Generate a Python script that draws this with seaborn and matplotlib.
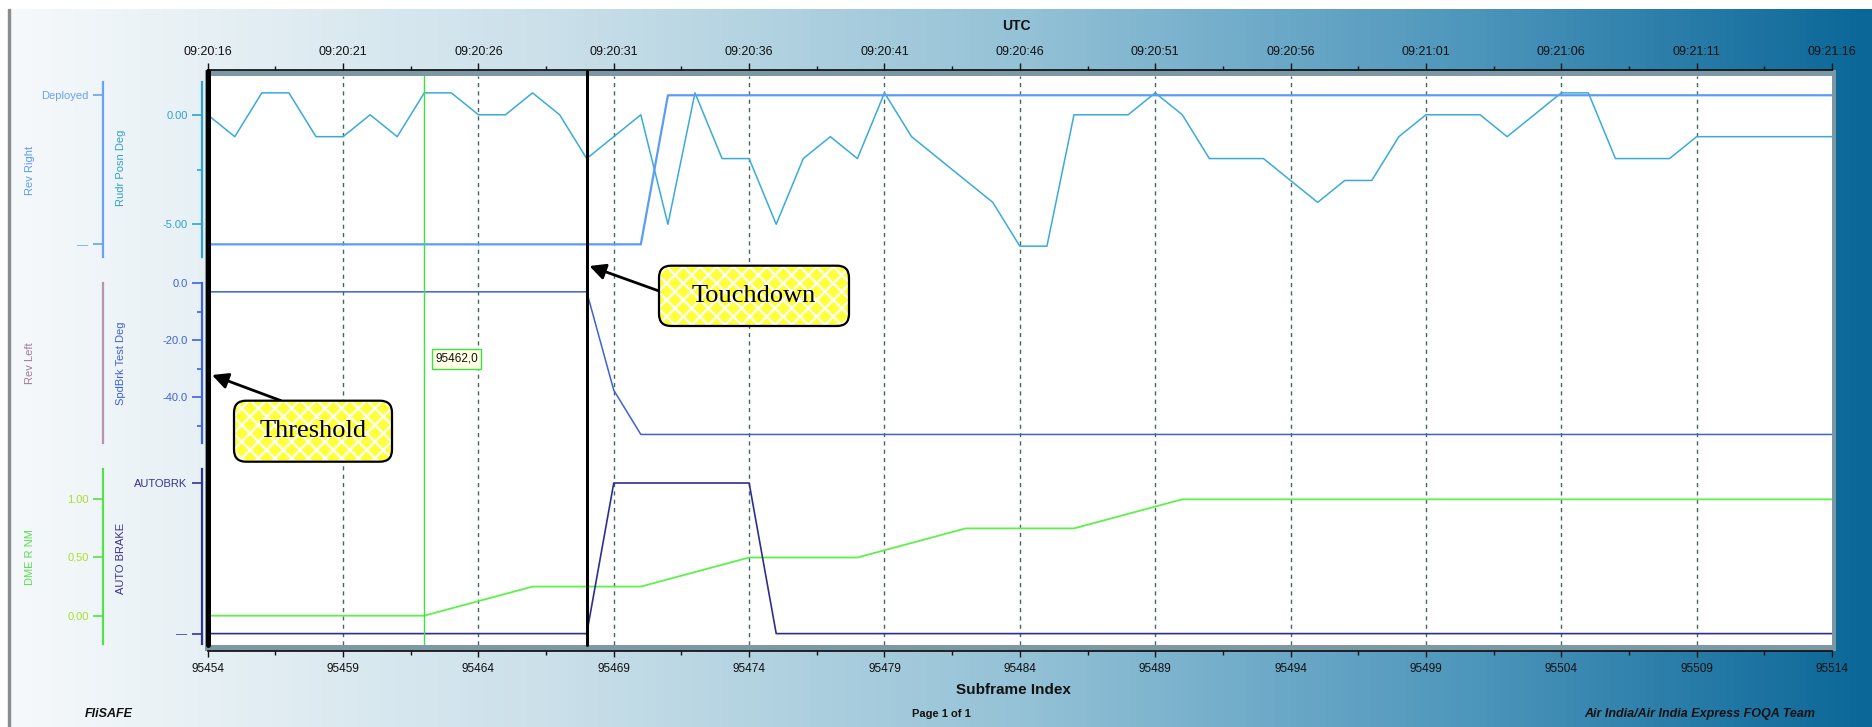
import matplotlib
matplotlib.use("Agg")
import matplotlib.pyplot as plt
from matplotlib.colors import LinearSegmentedColormap
from matplotlib.patches import FancyBboxPatch, Rectangle
import numpy as np
import seaborn as sns

sns.set_theme(style="white")
plt.rcParams['font.family'] = ['Liberation Sans', 'DejaVu Sans']
plt.rcParams['hatch.linewidth'] = 1.6

# -------------------------------------------------------
# DATA
# -------------------------------------------------------
subframes = list(range(95454, 95515))
rudr_posn_deg = [0, -1, 1, 1, -1, -1, 0, -1, 1, 1,
                 0, 0, 1, 0, -2, -1, 0, -5, 1, -2,
                 -2, -5, -2, -1, -2, 1, -1, -2, -3, -4,
                 -6, -6, 0, 0, 0, 1, 0, -2, -2, -2,
                 -3, -4, -3, -3, -1, 0, 0, 0, -1, 0,
                 1, 1, -2, -2, -2, -1, -1, -1, -1, -1, -1]

rev_right_idx = [95454, 95470, 95471, 95514]
rev_right = [0, 0, 1, 1]

spdbrk_idx = [95454, 95468, 95469, 95470, 95514]
spdbrk_deg = [-3, -3, -37.5, -53, -53]

autobrk_idx = [95454, 95468, 95469, 95474, 95475, 95514]
auto_brake = [0, 0, 1, 1, 0, 0]

dme_idx = [95454, 95462, 95466, 95470, 95474, 95478, 95482, 95486, 95490, 95514]
dme_r_nm = [0, 0, 0.25, 0.25, 0.5, 0.5, 0.75, 0.75, 1.0, 1.0]

major_ticks = list(range(95454, 95515, 5))
utc_labels = ['09:20:16', '09:20:21', '09:20:26', '09:20:31', '09:20:36',
              '09:20:41', '09:20:46', '09:20:51', '09:20:56', '09:21:01',
              '09:21:06', '09:21:11', '09:21:16']

threshold_idx = 95454
touchdown_idx = 95468
cursor_idx = 95462

# -------------------------------------------------------
# LAYOUT (pixels)
# -------------------------------------------------------
W, H, DPI = 1872, 727, 100
PX = 72 / DPI          # px -> points
X0, X1 = 207.7, 1832
PT, PB = 76, 645
XMIN, XMAX = 95454, 95514


def rect(left, top, right, bottom):
    return [left / W, 1 - bottom / H, (right - left) / W, (bottom - top) / H]


fig = plt.figure(figsize=(W / DPI, H / DPI), dpi=DPI)

# gradient background
grad = LinearSegmentedColormap.from_list(
    'foqa', [(0, '#f6f9fb'), (0.3, '#c9dfe9'), (0.55, '#93c1d6'),
             (0.78, '#4f97bd'), (1.0, '#0a6797')])
bg = fig.add_axes(rect(9, 9, W, H))
bg.imshow(np.linspace(0, 1, 512)[None, :], aspect='auto', cmap=grad, extent=[0, 1, 0, 1])
bg.axis('off')
bg.set_zorder(-3)
fig.add_artist(Rectangle((8 / W, 0), 1.6 / W, 1 - 9 / H, transform=fig.transFigure,
                         color='#8c8c8c', zorder=-2))
# grey frame round the plot area
fig.add_artist(Rectangle((205 / W, 1 - 651 / H), (1836 - 205) / W, (651 - 70) / H,
                         transform=fig.transFigure, fc='#7d98a5', ec='none', zorder=-1))

# -------------------------------------------------------
# MAIN PLOT AREA + X AXES
# -------------------------------------------------------
ax = fig.add_axes(rect(X0, PT, X1, PB))
ax.set_zorder(1)
ax.set_facecolor('white')
ax.set_xlim(XMIN, XMAX)
ax.set_ylim(0, 1)
ax.set_yticks([])
for s in ['left', 'right', 'top']:
    ax.spines[s].set_visible(False)
ax.spines['bottom'].set_position(('outward', 6 * PX))
ax.spines['bottom'].set_color('#111111')
ax.set_xticks(major_ticks, labels=[str(t) for t in major_ticks])
ax.set_xticks([t + 2.5 for t in major_ticks[:-1]], minor=True)
ax.tick_params(axis='x', which='major', bottom=True, length=6 * PX, width=1,
               color='#111111', labelsize=8.5, labelcolor='#111111', pad=4)
ax.tick_params(axis='x', which='minor', bottom=True, length=3.5 * PX, width=1, color='#111111')
for t in major_ticks[1:-1]:
    ax.axvline(t, color='#456666', lw=1, ls=(0, (3, 3)))

secax = ax.secondary_xaxis(1 + 6 / (PB - PT))
secax.set_xticks(major_ticks, labels=utc_labels)
secax.set_xticks([t + 2.5 for t in major_ticks[:-1]], minor=True)
secax.spines['top'].set_color('#111111')
secax.tick_params(axis='x', which='major', top=True, length=7.5 * PX, width=1,
                  color='#111111', labelsize=9, labelcolor='#111111', pad=3)
secax.tick_params(axis='x', which='minor', top=True, length=4 * PX, width=1, color='#111111')

fig.text(1016 / W, 1 - 26 / H, 'UTC', ha='center', va='center', fontsize=10,
         fontweight='bold', color='#111111')
fig.text(1013 / W, 1 - 690 / H, 'Subframe Index', ha='center', va='center', fontsize=11,
         fontweight='bold', color='#111111')


# -------------------------------------------------------
# PARAMETER BANDS
# -------------------------------------------------------
def band(top, bot, ylim, offset_px, color, ticks=(), labels=(), minor=(),
         tick_color=None):
    a = fig.add_axes(rect(X0, top, X1, bot))
    a.set_zorder(2)
    a.patch.set_alpha(0)
    for s in ['top', 'right', 'bottom']:
        a.spines[s].set_visible(False)
    a.spines['left'].set_position(('outward', offset_px * PX))
    a.spines['left'].set_color(color)
    a.spines['left'].set_linewidth(1.6)
    a.set_xticks([])
    a.set_yticks(list(ticks), labels=list(labels))
    a.set_yticks(list(minor), minor=True)
    a.tick_params(axis='y', which='major', left=True, length=10 * PX, width=1.2, color=color,
                  labelcolor=tick_color or color, labelsize=8, pad=3)
    a.tick_params(axis='y', which='minor', left=True, length=5 * PX, width=1.2, color=color)
    return a


def finish(a, ylim):
    a.set_xlim(XMIN, XMAX)
    a.set_ylim(*ylim)
    a.set_xlabel('')
    a.set_ylabel('')


teal = '#2fa2cc'
ax_rudr = band(81.7, 256.7, None, 6, teal, [0, -5], ['0.00', '-5.00'], [-2.5])
sns.lineplot(x=subframes, y=rudr_posn_deg, ax=ax_rudr, color='#3aabd8', linewidth=1.1, sort=False)
finish(ax_rudr, (-6.48, 1.51))

ax_rev_r = band(81.7, 256.7, None, 105, '#66a3f2', [0, 1], ['\u2014', 'Deployed'])
sns.lineplot(x=rev_right_idx, y=rev_right, ax=ax_rev_r, color='#5b9cf6', linewidth=1.6, sort=False)
finish(ax_rev_r, (-0.083, 1.091))

ax_spd = band(282.7, 443.3, None, 6, '#3d62d6', [0, -20, -40], ['0.0', '-20.0', '-40.0'],
              [-10, -30, -50])
sns.lineplot(x=spdbrk_idx, y=spdbrk_deg, ax=ax_spd, color='#3d62d6', linewidth=1.1, sort=False)
finish(ax_spd, (-56.1, 0.2))

ax_rev_l = band(282.7, 443.3, None, 105, '#b893b2')
finish(ax_rev_l, (0, 1))

ax_dme = band(469.3, 644.3, None, 105, '#55e04a', [0, 0.5, 1], ['0.00', '0.50', '1.00'],
              tick_color='#a8e02a')
sns.lineplot(x=dme_idx, y=dme_r_nm, ax=ax_dme, color='#5cf24a', linewidth=1.3, sort=False)
finish(ax_dme, (-0.246, 1.258))

ax_ab = band(469.3, 644.3, None, 6, '#34348c', [0, 1], ['\u2014', 'AUTOBRK'])
sns.lineplot(x=autobrk_idx, y=auto_brake, ax=ax_ab, color='#2e2e8c', linewidth=1.2, sort=False)
finish(ax_ab, (-0.071, 1.091))

# axis titles (rotated)
for txt, x, y, c in [('Rev Right', 30, 170, '#5b9cf0'), ('Rudr Posn Deg', 121, 168, teal),
                     ('Rev Left', 30, 363, '#a07a9a'), ('SpdBrk Test Deg', 121, 363, '#3d62d6'),
                     ('DME R NM', 30, 557, '#55e04a'), ('AUTO BRAKE', 121, 558, '#34348c')]:
    fig.text(x / W, 1 - y / H, txt, rotation=90, ha='center', va='center', fontsize=8, color=c)

# -------------------------------------------------------
# EVENT MARKERS + CALLOUTS
# -------------------------------------------------------
ov = fig.add_axes(rect(X0, PT, X1, PB))
ov.set_zorder(5)
ov.patch.set_alpha(0)
ov.axis('off')
ov.set_xlim(XMIN, XMAX)
ov.set_ylim(0, 1)
ov.axvline(cursor_idx, color='#3de23d', lw=1)
ov.axvline(threshold_idx, color='black', lw=5 * PX, ymax=1.008, clip_on=False)
ov.axvline(touchdown_idx, color='black', lw=3 * PX, ymax=1.008, clip_on=False)

fig.text(456.5 / W, 1 - 359 / H, f'{cursor_idx},0', ha='center', va='center', fontsize=8.5,
         color='#111111', zorder=6,
         bbox=dict(boxstyle='square,pad=0.3', fc='#ffffe6', ec='#3de23d', lw=1))


def callout(label, x0, top, w, h, tip_x, tip_y, start):
    for kw in [dict(fc='#ffff3a', ec='white', lw=0, hatch='xx'),
               dict(fc='none', ec='black', lw=1.6)]:
        fig.add_artist(FancyBboxPatch((x0 / DPI, (H - top - h) / DPI), w / DPI, h / DPI,
                                      boxstyle='round,pad=0,rounding_size=0.12',
                                      transform=fig.dpi_scale_trans, zorder=6, **kw))
    fig.text((x0 + w / 2) / W, 1 - (top + h / 2) / H, label, ha='center', va='center',
             fontsize=19, family=['Liberation Serif', 'DejaVu Serif'], color='black', zorder=7)
    ov.annotate('', xy=(tip_x, (PB - tip_y) / (PB - PT)), xycoords=('data', 'axes fraction'),
                xytext=(start[0], H - start[1]), textcoords='figure pixels',
                arrowprops=dict(arrowstyle='-|>,head_length=0.8,head_width=0.4', color='black',
                                lw=2, shrinkA=0, shrinkB=0, mutation_scale=12),
                zorder=8)


callout('Threshold', 234, 400.7, 158, 61, threshold_idx + 0.16, 375, (281, 400.7))
callout('Touchdown', 659, 265.7, 190, 60.3, touchdown_idx + 0.1, 266, (659, 291))

# -------------------------------------------------------
# FOOTER
# -------------------------------------------------------
fig.text(85 / W, 1 - 714 / H, 'FIiSAFE', ha='left', va='center', fontsize=9,
         fontweight='bold', fontstyle='italic', color='#111111')
fig.text(941 / W, 1 - 714 / H, 'Page 1 of 1', ha='center', va='center', fontsize=8,
         fontweight='bold', color='#111111')
fig.text(1815 / W, 1 - 714 / H, 'Air India/Air India Express FOQA Team', ha='right',
         va='center', fontsize=9, fontweight='bold', fontstyle='italic', color='#111111')

fig.savefig('out.png', dpi=DPI)
